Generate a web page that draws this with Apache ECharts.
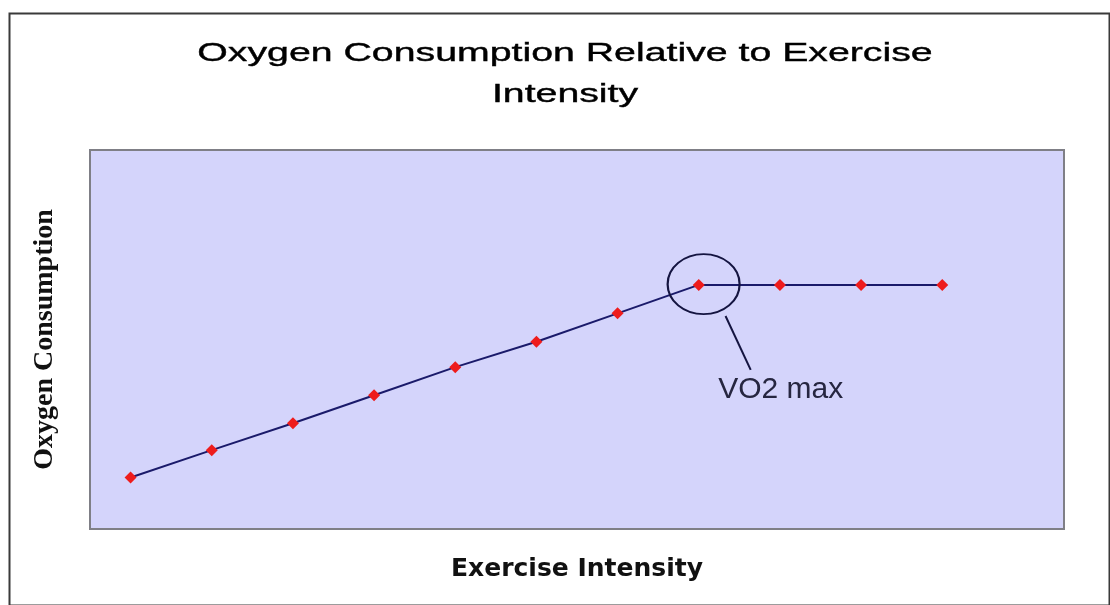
<!DOCTYPE html>
<html>
<head>
<meta charset="utf-8">
<script src="https://cdn.jsdelivr.net/npm/echarts@6/dist/echarts.min.js"></script>
<style>
html,body{margin:0;padding:0;background:#fff;}
#chart{width:1110px;height:605px;}
</style>
</head>
<body>
<div id="chart"></div>
<script>
// ---- data ----
const titleText = 'Oxygen Consumption Relative to Exercise\nIntensity';
const xAxisName = 'Exercise Intensity';
const yAxisName = 'Oxygen Consumption';
const intensity = [1, 2, 3, 4, 5, 6, 7, 8, 9, 10, 11];
const oxygen = [13.6, 20.8, 27.9, 35.3, 42.7, 49.4, 56.9, 64.4, 64.4, 64.4, 64.4];
const annotationText = 'VO2 max';
const vo2Circle = [8.06, 64.6];
const leaderFrom = [8.33, 56.2];
const leaderTo = [8.64, 42.0];
const annotationAt = [8.24, 36.8];

const chart = echarts.init(document.getElementById('chart'), null, {renderer: 'canvas'});
const option = {
  animation: false,
  backgroundColor: '#ffffff',
  graphic: [
    {
      type: 'rect', left: 7, top: 11, z: -10,
      shape: {width: 1100, height: 592},
      style: {fill: 'none', stroke: '#3a3a3a', lineWidth: 2}
    },
    {
      type: 'text', x: 565, y: 33, scaleX: 1.51,
      style: {
        text: titleText, textAlign: 'center', textVerticalAlign: 'top',
        font: 'normal 26px "Liberation Sans", Arial, sans-serif',
        lineHeight: 41, fill: '#000000', stroke: '#000000', lineWidth: 0.4
      }
    }
  ],
  grid: {
    left: 90, right: 46, top: 150, bottom: 76,
    show: true, backgroundColor: '#d4d4fb',
    borderColor: '#7f7f86', borderWidth: 2
  },
  xAxis: {
    type: 'value', min: 0.5, max: 12.5,
    name: xAxisName, nameLocation: 'middle', nameGap: 28,
    nameTextStyle: {fontFamily: 'DejaVu Sans', fontWeight: 'bold', fontSize: 25, color: '#111', verticalAlign: 'top'},
    axisLine: {show: false}, axisTick: {show: false}, axisLabel: {show: false}, splitLine: {show: false}
  },
  yAxis: {
    type: 'value', min: 0, max: 100,
    name: yAxisName, nameLocation: 'middle', nameGap: 31, nameRotate: 90,
    nameTextStyle: {fontFamily: '"Liberation Serif", "Times New Roman", serif', fontWeight: 'bold', fontSize: 28, color: '#111'},
    axisLine: {show: false}, axisTick: {show: false}, axisLabel: {show: false}, splitLine: {show: false}
  },
  series: [{
    type: 'line',
    data: intensity.map((x, i) => [x, oxygen[i]]),
    symbol: 'diamond', symbolSize: 12,
    itemStyle: {color: '#ee1c1c'},
    lineStyle: {color: '#1a1a6a', width: 2},
    z: 3,
    markPoint: {
      silent: true,
      data: [
        {
          coord: vo2Circle, symbol: 'circle', symbolSize: [72, 60],
          itemStyle: {color: 'rgba(0,0,0,0)', borderColor: '#141440', borderWidth: 2},
          label: {show: false}
        },
        {
          coord: annotationAt, symbol: 'circle', symbolSize: 0,
          itemStyle: {color: 'rgba(0,0,0,0)'},
          label: {
            show: true, position: 'right', distance: 0, formatter: annotationText,
            fontFamily: '"Liberation Sans", Arial, sans-serif', fontSize: 30, color: '#262640'
          }
        }
      ]
    },
    markLine: {
      silent: true, symbol: ['none', 'none'],
      lineStyle: {color: '#141440', width: 2, type: 'solid'},
      label: {show: false},
      data: [[{coord: leaderFrom}, {coord: leaderTo}]]
    }
  }]
};
chart.setOption(option);
</script>
</body>
</html>
